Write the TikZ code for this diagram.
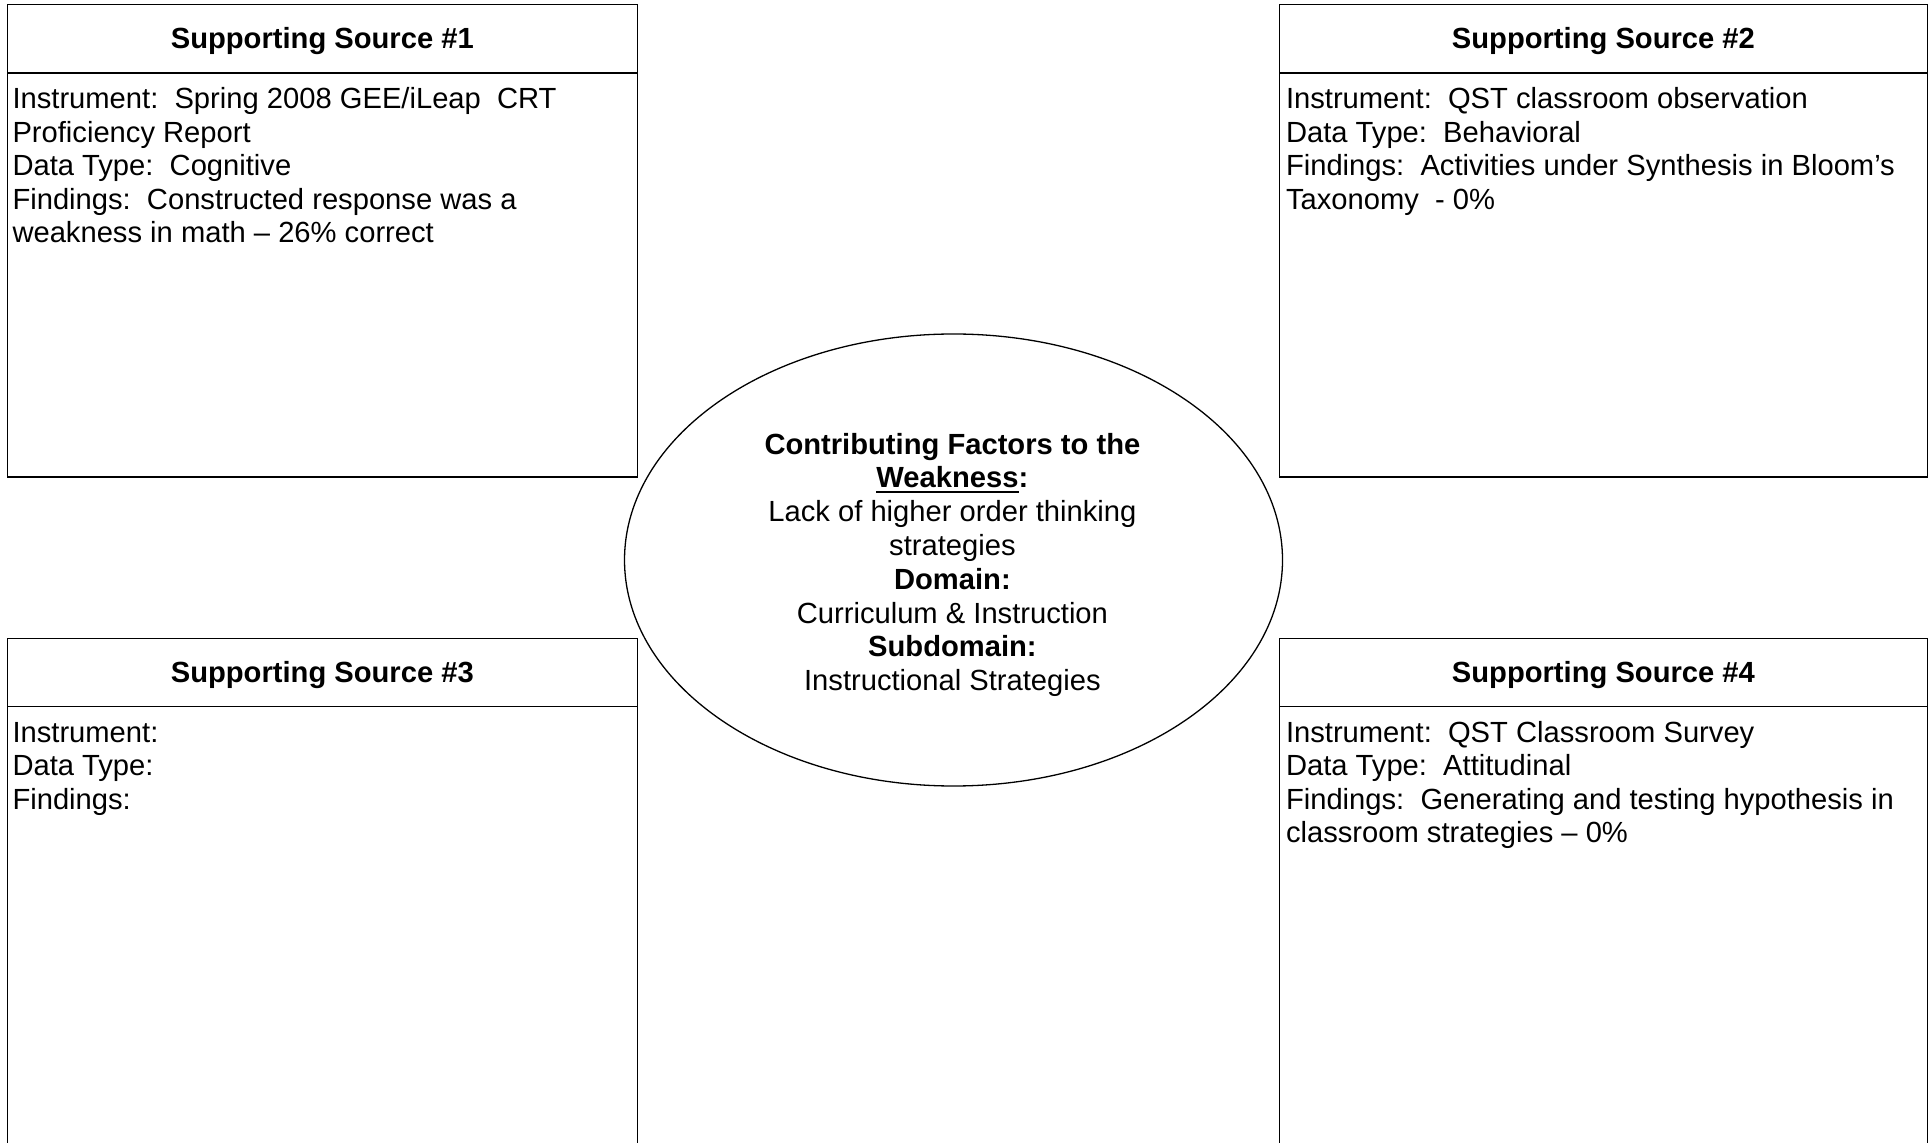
\documentclass[tikz,border=0pt]{standalone}
\usepackage{fontspec}
\setmainfont{Liberation Sans}
\usetikzlibrary{shapes.geometric}
\frenchspacing
% thick underline set a little below the baseline
\newcommand\thickul[1]{\setbox0\hbox{#1}\rlap{\rule[-2.6pt]{\wd0}{1.1pt}}#1}
\begin{document}
\begin{tikzpicture}[x=0.5pt,y=-0.5pt,
  every node/.style={inner sep=0pt, outer sep=0pt},
  txt/.style={font=\fontsize{14.58pt}{16.77pt}\selectfont},
  srcbox/.style={draw, line width=0.55pt, rectangle, anchor=north west},
  hdr/.style={srcbox, font=\fontsize{14.58pt}{16.77pt}\selectfont\bfseries,
    minimum height=34.35pt, text height=11.9pt, text depth=1.8pt},
  body/.style={txt, align=left, anchor=base west},
  centre/.style={font=\fontsize{14.58pt}{16.9pt}\selectfont, align=center, anchor=base}]
\clip (0,0) rectangle (1932,1143);
\fill[white] (0,0) rectangle (1932,1143);

% top-left source (text nodes are placed by the baseline of their last line)
\node[srcbox, minimum width=315pt, minimum height=236.35pt] (s1) at (7.3,4.3) {};
\node[hdr, minimum width=315pt] (h1) at (7.3,4.3) {Supporting Source \#1};
\node[body] (p1) at (12.5,242.8) {Instrument: \ Spring 2008 GEE/iLeap \ CRT\\
Proficiency Report\\
Data Type: \ Cognitive\\
Findings: \ Constructed response was a\\
weakness in math – 26\% correct};

% top-right source
\node[srcbox, minimum width=324.1pt, minimum height=236.35pt] (s2) at (1279.3,4.3) {};
\node[hdr, minimum width=324.1pt] (h2) at (1279.3,4.3) {Supporting Source \#2};
\node[body] (p2) at (1286,209.2) {Instrument: \ QST classroom observation\\
Data Type: \ Behavioral\\
Findings: \ Activities under Synthesis in Bloom’s\\
Taxonomy \ - 0\%};

% bottom-left source (runs past the lower edge)
\node[srcbox, minimum width=315pt, minimum height=256pt] (s3) at (7.3,638.2) {};
\node[hdr, minimum width=315pt] (h3) at (7.3,638.2) {Supporting Source \#3};
\node[body] (p3) at (12.5,809.2) {Instrument:\\
Data Type:\\
Findings:};

% bottom-right source (runs past the lower edge)
\node[srcbox, minimum width=324.1pt, minimum height=256pt] (s4) at (1279.3,638.2) {};
\node[hdr, minimum width=324.1pt] (h4) at (1279.3,638.2) {Supporting Source \#4};
\node[body] (p4) at (1286,842.7) {Instrument: \ QST Classroom Survey\\
Data Type: \ Attitudinal\\
Findings: \ Generating and testing hypothesis in\\
classroom strategies – 0\%};

% central ellipse with the contributing factors
\node[ellipse, draw, line width=0.65pt, minimum width=329pt, minimum height=226pt] (cf) at (953.5,560) {};
\node[centre] (cftext) at (952.4,690.8) {\textbf{Contributing Factors to the}\\
\textbf{\thickul{Weakness}:}\\
Lack of higher order thinking\\
strategies\\
\textbf{Domain:}\\
Curriculum \& Instruction\\
\textbf{Subdomain:}\\
Instructional Strategies};
\end{tikzpicture}
\end{document}
